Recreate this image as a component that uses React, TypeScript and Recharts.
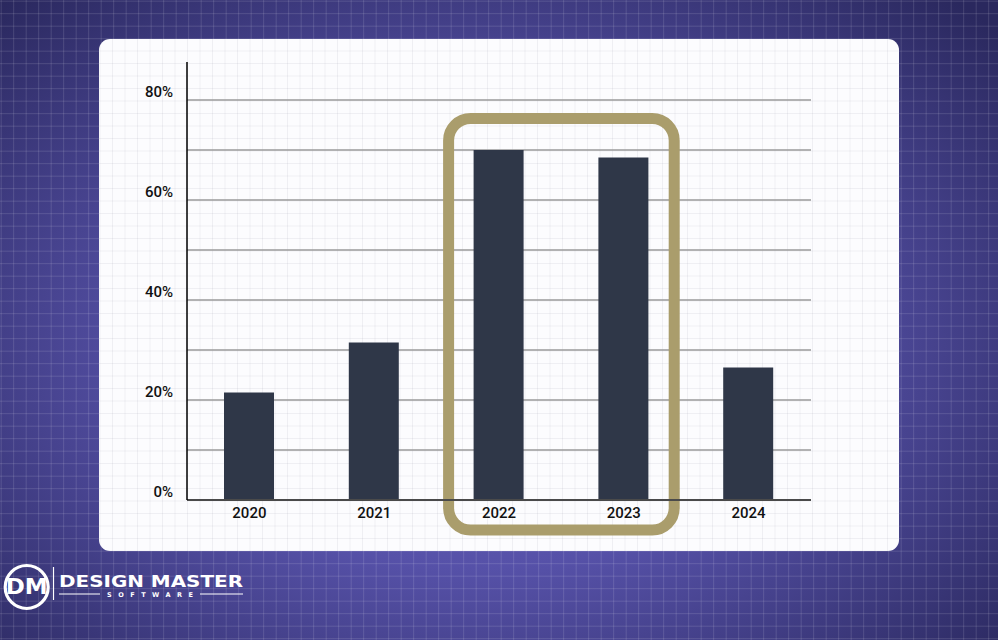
import React from 'react';
import { BarChart, Bar, XAxis, YAxis, ReferenceLine, ReferenceArea } from 'recharts';

const years = ['2020', '2021', '2022', '2023', '2024'];
const shares = [21.5, 31.5, 70, 68.5, 26.5];
const yTicks = [0, 10, 20, 30, 40, 50, 60, 70, 80];
const labelledTicks = [0, 20, 40, 60, 80];
const highlightFrom = '2022';
const highlightTo = '2023';

const data = years.map((y, i) => ({ year: y, value: shares[i] }));

const FONT = 'Roboto, "Noto Sans", sans-serif';

const YTick = (props: any) => {
  const { x, y, payload } = props;
  if (!labelledTicks.includes(payload.value)) return null;
  return (
    <text x={x - 6} y={y - 8} dy="0.35em" textAnchor="end" fontFamily={FONT} fontSize={15} fontWeight={500} fill="#111">
      {payload.value}%
    </text>
  );
};

const XTick = (props: any) => {
  const { x, y, payload } = props;
  return (
    <text x={x} y={y + 5} dy="0.35em" textAnchor="middle" fontFamily={FONT} fontSize={15} fontWeight={500} fill="#111">
      {payload.value}
    </text>
  );
};

const HighlightShape = (props: any) => {
  const { x, y, width, height } = props;
  const inset = 12;
  return (
    <rect
      x={x + inset}
      y={y}
      width={width - inset * 2}
      height={height}
      rx={22}
      ry={22}
      fill="none"
      stroke="#aa9d6c"
      strokeWidth={11}
    />
  );
};

export default function App() {
  const outer: React.CSSProperties = {
    position: 'absolute',
    left: 0,
    top: 0,
    width: 998,
    height: 640,
    overflow: 'hidden',
    background:
      'linear-gradient(rgba(255,255,255,0.13) 1px, transparent 1px) 0 0.7px / 12.5px 12.5px,' +
      'linear-gradient(90deg, rgba(255,255,255,0.13) 1px, transparent 1px) 0.7px 0 / 12.5px 12.5px,' +
      'radial-gradient(ellipse 70% 75% at 48% 55%, #6a65bf 0%, #5651a8 45%, #2a285e 100%)',
  };
  const card: React.CSSProperties = {
    position: 'absolute',
    left: 99,
    top: 39,
    width: 800,
    height: 512,
    borderRadius: 11,
    background:
      'linear-gradient(rgba(0,0,40,0.05) 1px, transparent 1px) 0 11.5px / 12.5px 12.5px,' +
      'linear-gradient(90deg, rgba(0,0,40,0.05) 1px, transparent 1px) 0.5px 0 / 12.5px 12.5px,' +
      '#fcfcfe',
  };
  const refLineProps: any = { zIndex: 100 };
  const barProps: any = { zIndex: 300 };
  return (
    <div style={outer}>
      <div style={card} />
      <div style={{ position: 'absolute', left: 0, top: 0 }}>
        <BarChart width={998} height={640} data={data} margin={{ top: 62, right: 187, bottom: 110, left: 127 }}>
          {yTicks.slice(1).map((t) => (
            <ReferenceLine key={t} y={t} stroke="#9a9a9a" strokeWidth={1.5} {...refLineProps} />
          ))}
          <XAxis
            dataKey="year"
            height={30}
            axisLine={{ stroke: '#4a4a4a', strokeWidth: 2 }}
            tickLine={false}
            tick={<XTick />}
            interval={0}
          />
          <YAxis
            width={60}
            domain={[0, 87.6]}
            ticks={yTicks}
            allowDataOverflow
            axisLine={{ stroke: '#000', strokeWidth: 1.5 }}
            tickLine={false}
            tick={<YTick />}
            interval={0}
          />
          <Bar dataKey="value" fill="#2f3748" barSize={50} isAnimationActive={false} {...barProps} />
          <ReferenceArea
            x1={highlightFrom}
            x2={highlightTo}
            y1={-6}
            y2={76.3}
            ifOverflow="visible"
            shape={<HighlightShape />}
          />
        </BarChart>
      </div>
      <svg width={260} height={60} style={{ position: 'absolute', left: 0, top: 560 }}>
        <circle cx={26.7} cy={27} r={21.5} fill="none" stroke="#fff" strokeWidth={3.2} />
        <text x={26.7} y={34} textAnchor="middle" fontFamily='"DejaVu Sans", sans-serif' fontWeight={700} fontSize={21} fill="#fff" textLength={42} lengthAdjust="spacingAndGlyphs">
          DM
        </text>
        <line x1={53.5} y1={7} x2={53.5} y2={40} stroke="#fff" strokeWidth={1.2} />
        <text x={59} y={26.5} fontFamily='"DejaVu Sans", sans-serif' fontWeight={700} fontSize={15} fill="#fff" textLength={184} lengthAdjust="spacingAndGlyphs">
          DESIGN MASTER
        </text>
        <line x1={59} y1={34} x2={100} y2={34} stroke="#fff" strokeWidth={1} />
        <line x1={200} y1={34} x2={243} y2={34} stroke="#fff" strokeWidth={1} />
        <text x={107} y={36.5} fontFamily='"DejaVu Sans", sans-serif' fontWeight={700} fontSize={6.5} fill="#fff" textLength={86} lengthAdjust="spacing">
          SOFTWARE
        </text>
      </svg>
    </div>
  );
}
